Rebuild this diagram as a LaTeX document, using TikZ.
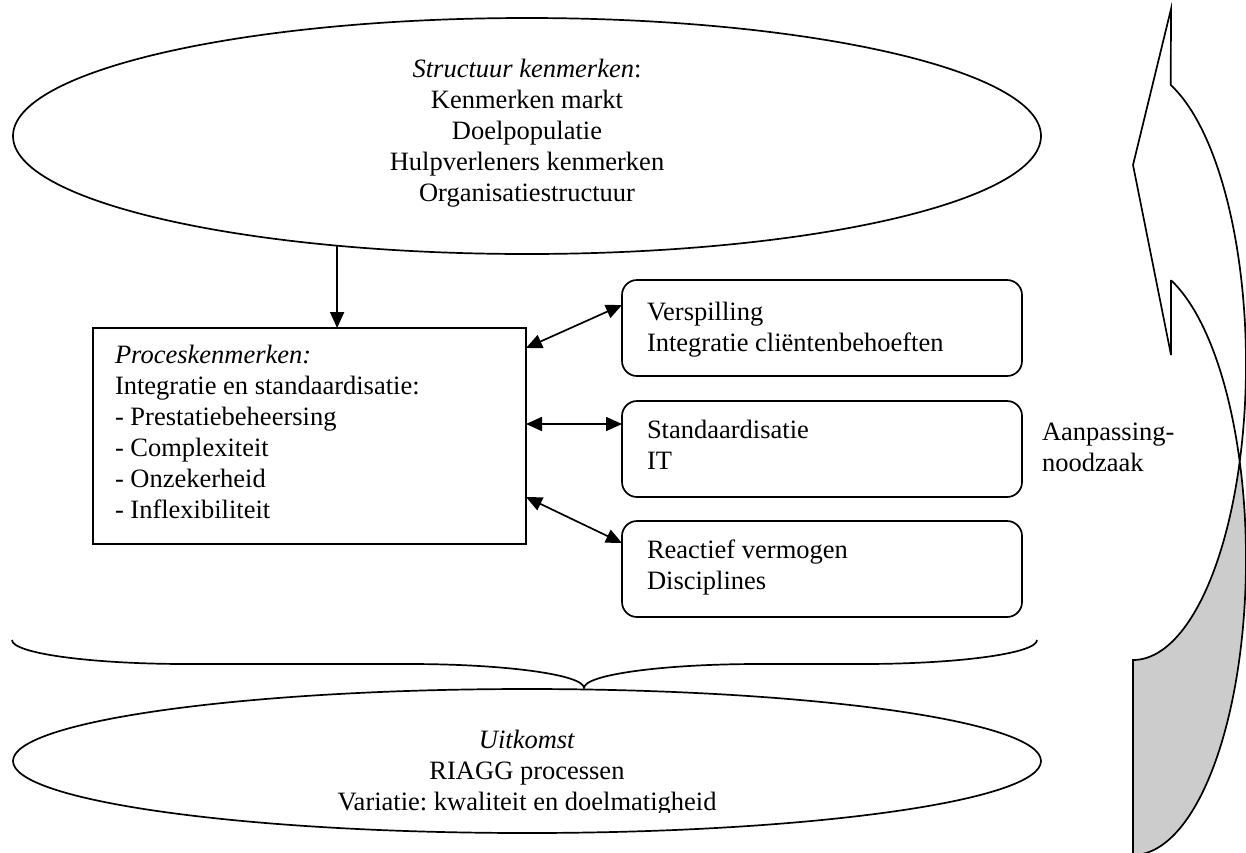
\documentclass[tikz,border=0pt]{standalone}
\usepackage{fontspec}
\setmainfont{Liberation Serif}
\usetikzlibrary{arrows.meta,shapes.geometric}
\definecolor{backgray}{HTML}{CCCCCC}
\frenchspacing

\begin{document}
\begin{tikzpicture}[x=1pt,y=-1pt,
  line width=1.7pt,
  % multi-line texts are placed by the baseline of their last line
  txt/.style={font=\fontsize{26.5}{31}\selectfont, inner sep=0pt, outer sep=0pt},
  oval/.style={draw, ellipse, inner sep=0pt, outer sep=0pt},
  procbox/.style={draw, rectangle, inner sep=0pt, outer sep=0pt,
    minimum width=433pt, minimum height=216pt},
  factbox/.style={draw, rectangle, rounded corners=15pt, inner sep=0pt, outer sep=0pt,
    minimum width=400pt, minimum height=96pt},
  arr/.style={-{Triangle[length=16pt,width=14pt]}},
  dblarr/.style={{Triangle[length=16pt,width=14pt]}-{Triangle[length=16pt,width=14pt]}},
]
\useasboundingbox (0,0) rectangle (1246,852);

% structure characteristics
\node[oval, minimum width=1028pt, minimum height=236pt] (structure) at (527,136) {};
\node[txt, anchor=base, align=center] (structtxt) at (527,201)
  {\textit{Structuur kenmerken}:\\Kenmerken markt\\Doelpopulatie\\Hulpverleners kenmerken\\Organisatiestructuur};

% process characteristics
\node[procbox, anchor=north west] (proces) at (93,328) {};
\node[txt, anchor=base west, align=left] (proctxt) at (115,518)
  {\textit{Proceskenmerken:}\\Integratie en standaardisatie:\\- Prestatiebeheersing\\- Complexiteit\\- Onzekerheid\\- Inflexibiliteit};

% factor boxes
\node[factbox, anchor=north west] (fact1) at (622,280) {};
\node[factbox, anchor=north west] (fact2) at (622,401) {};
\node[factbox, anchor=north west] (fact3) at (622,521) {};
\node[txt, anchor=base west, align=left] (fact1txt) at (647,351) {Verspilling\\Integratie cliëntenbehoeften};
\node[txt, anchor=base west, align=left] (fact2txt) at (647,469) {Standaardisatie\\IT};
\node[txt, anchor=base west, align=left] (fact3txt) at (647,589) {Reactief vermogen\\Disciplines};

% side label
\node[txt, anchor=base west, align=left] (need) at (1042,471) {Aanpassing-\\noodzaak};

% outcome (its text box cuts off the descenders of the last line)
\node[oval, minimum width=1028pt, minimum height=144pt] (outcome) at (527,761) {};
\begin{scope}
  \clip (0,0) rectangle (1246,812);
  \node[txt, anchor=base, align=center] (outtxt) at (527,810)
    {\textit{Uitkomst}\\RIAGG processen\\Variatie: kwaliteit en doelmatigheid};
\end{scope}

% connectors
\draw[arr] (structure.210) -- (proces.north -| structure.210);
\coordinate (p1) at ([yshift=-20pt]proces.north east);
\coordinate (q1) at ([yshift=-25pt]fact1.north west);
\coordinate (p2) at ([yshift=-96pt]proces.north east);
\coordinate (p3) at ([yshift=-169pt]proces.north east);
\coordinate (q3) at ([yshift=-22pt]fact3.north west);
\draw[dblarr] (p1) -- (q1);
\draw[dblarr] (p2) -- (p2 -| fact2.west);
\draw[dblarr] (p3) -- (q3);

% brace gathering the process into the outcome
\draw (12,640) .. controls (12,653.3) and (90.3,664) .. (187,664)
  -- (409,664) .. controls (505.7,664) and (584,674.7) .. (584,688)
  .. controls (584,674.7) and (662.3,664) .. (759,664)
  -- (862,664) .. controls (958.7,664) and (1037,653.3) .. (1037,640);

% curved feedback arrow: back face
\filldraw[fill=backgray]
  plot[domain=19.23:-90, samples=80] ({1133+113*cos(\x)},{559-296*sin(\x)})
  -- plot[domain=-90:-19.23, samples=60] ({1133+113*cos(\x)},{364-296*sin(\x)})
  -- cycle;
% curved feedback arrow: front face with head
\filldraw[fill=white, line join=miter]
  (1171,9) -- (1133,165) -- (1171,355) -- (1171,280)
  -- plot[domain=70.35:19.23, samples=50] ({1133+113*cos(\x)},{559-296*sin(\x)})
  -- plot[domain=-19.23:70.5, samples=80] ({1133+113*cos(\x)},{364-296*sin(\x)})
  -- cycle;
\end{tikzpicture}
\end{document}
